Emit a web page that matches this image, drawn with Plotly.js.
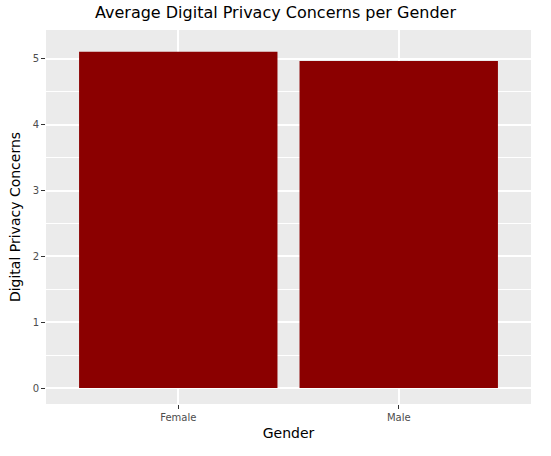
<!DOCTYPE html>
<html><head><script src="https://cdn.plot.ly/plotly-3.0.1.min.js"></script>
<style>body{margin:0}</style></head><body>
<div id="c" style="width:551px;height:456px"></div>
<script>
const genders = ["Female", "Male"];
const concerns = [5.11, 4.97];
const yTicks = [0, 1, 2, 3, 4, 5];
Plotly.newPlot("c", [{
  type: "bar", x: genders, y: concerns, width: 0.9,
  marker: {color: "#8b0000"}, hoverinfo: "x+y"
}], {
  width: 551, height: 456,
  margin: {l: 46, r: 20, t: 30, b: 52},
  paper_bgcolor: "white", plot_bgcolor: "#ebebeb",
  title: {text: "Average Digital Privacy Concerns per Gender", x: 0.5, y: 0.985, yanchor: "top",
    font: {family: "DejaVu Sans", size: 16, color: "black"}},
  font: {family: "DejaVu Sans"},
  xaxis: {range: [-0.6, 1.6], showgrid: true, gridcolor: "white", gridwidth: 1.5,
    ticks: "outside", ticklen: 4, tickcolor: "#333", tickfont: {size: 10, color: "#4d4d4d"},
    title: {text: "Gender", font: {size: 14, color: "black"}, standoff: 6}, zeroline: false},
  yaxis: {range: [-0.243, 5.44], tickvals: yTicks, showgrid: true, gridcolor: "white", gridwidth: 1.5,
    ticks: "outside", ticklen: 4, tickcolor: "#333", tickfont: {size: 10, color: "#4d4d4d"},
    minor: {tickvals: [0.5,1.5,2.5,3.5,4.5], showgrid: true, gridcolor: "white", gridwidth: 0.6, ticks: ""},
    title: {text: "Digital Privacy Concerns", font: {size: 14, color: "black"}, standoff: 8}, zeroline: false}
}, {displayModeBar: false});
</script></body></html>
